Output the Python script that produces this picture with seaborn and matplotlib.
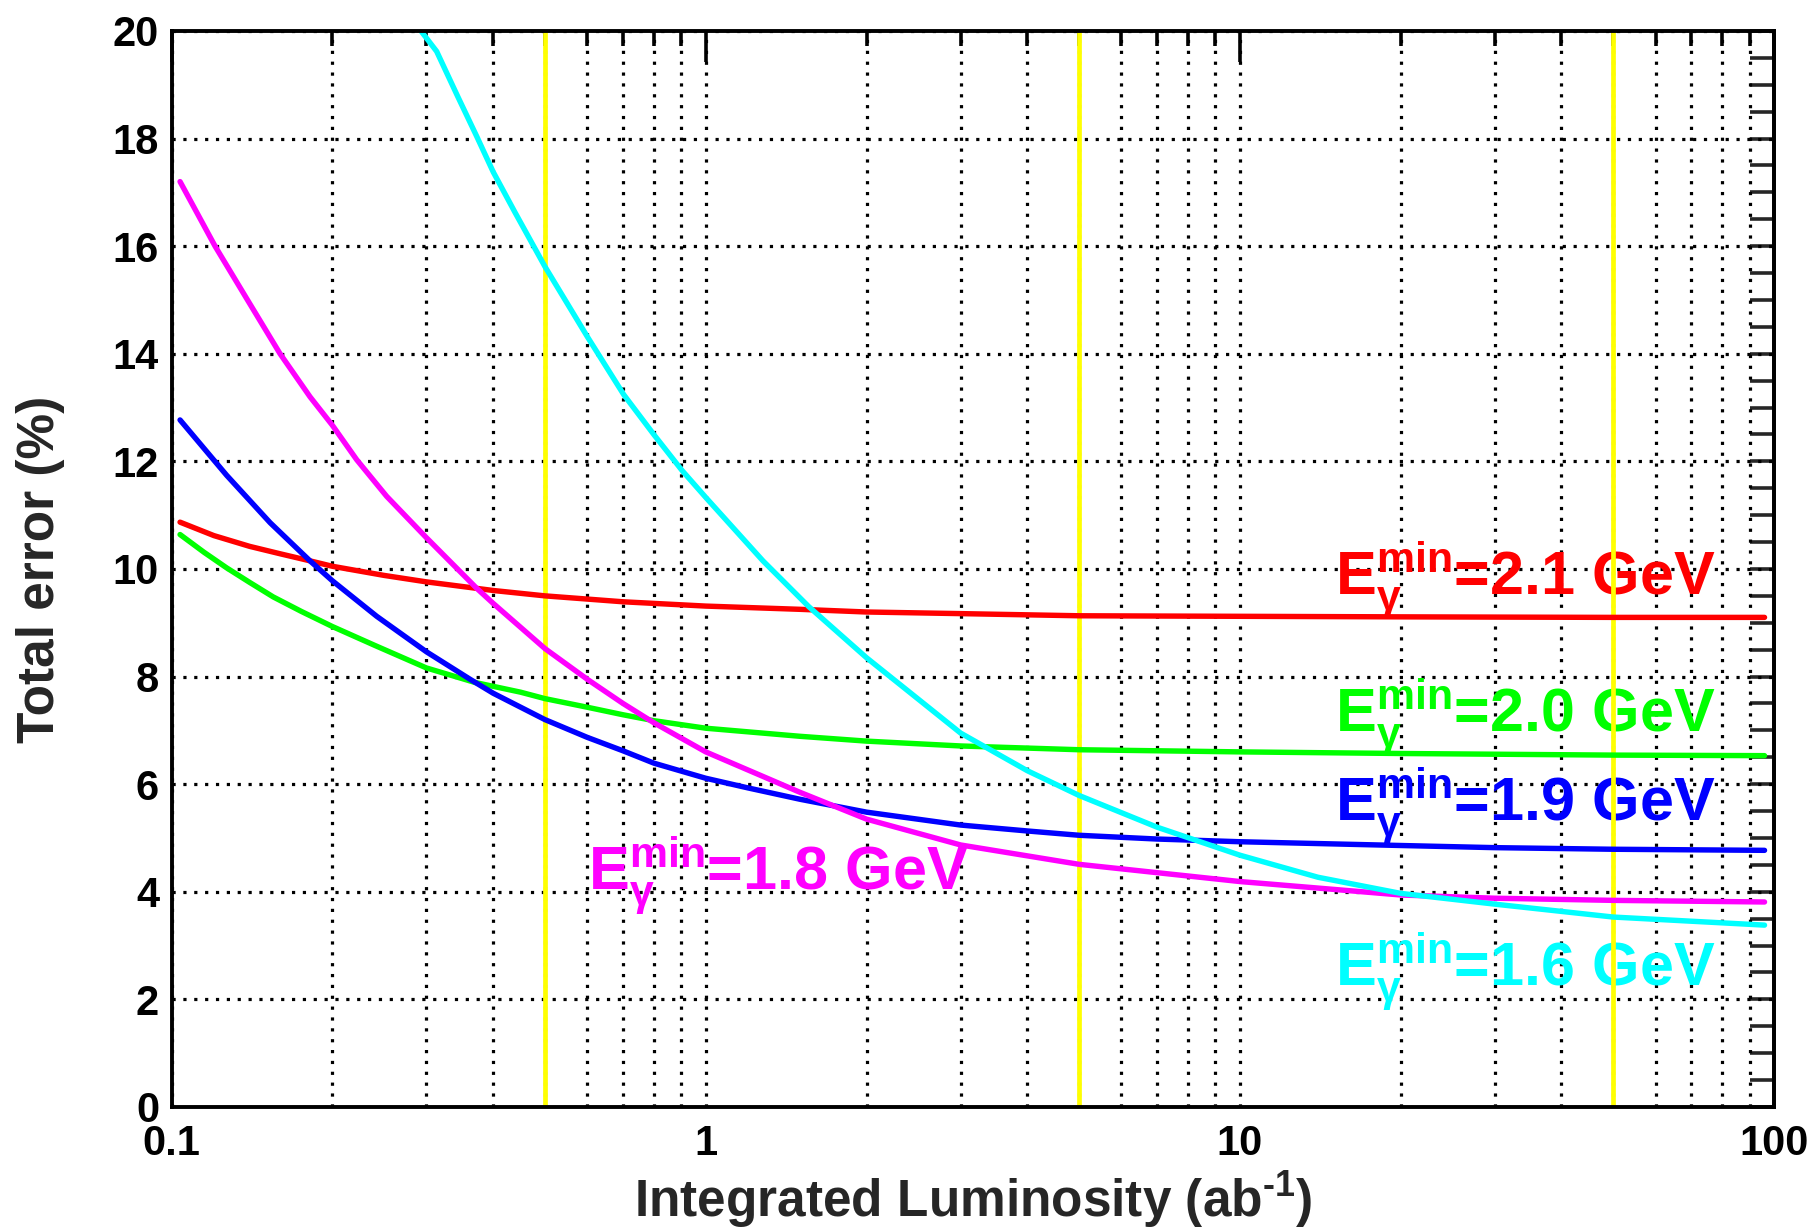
import numpy as np
import pandas as pd
import matplotlib
matplotlib.use("Agg")
import matplotlib.pyplot as plt
import matplotlib.ticker as mticker
import seaborn as sns

# Total error (%) versus integrated luminosity (ab^-1) for each minimum photon energy
lumi_21 = [0.1037, 0.12, 0.14, 0.16, 0.18, 0.2, 0.25, 0.3, 0.4, 0.5, 0.7, 1.0,
           1.5, 2.0, 3.0, 5.0, 10.0, 20.0, 50.0, 96.0]
err_21 = [10.87, 10.62, 10.42, 10.28, 10.16, 10.05, 9.88, 9.76, 9.60, 9.50, 9.39, 9.31,
          9.25, 9.20, 9.17, 9.13, 9.12, 9.11, 9.10, 9.10]

lumi_20 = [0.1037, 0.115, 0.1268, 0.14, 0.155, 0.175, 0.2, 0.24, 0.3, 0.37, 0.45, 0.5,
           0.6, 0.7, 0.8, 1.0, 1.5, 2.0, 3.0, 5.0, 10.0, 20.0, 50.0, 96.0]
err_20 = [10.64, 10.31, 10.02, 9.75, 9.48, 9.21, 8.93, 8.58, 8.16, 7.89, 7.71, 7.59,
          7.43, 7.29, 7.18, 7.04, 6.89, 6.80, 6.71, 6.64, 6.60, 6.57, 6.54, 6.53]

lumi_19 = [0.1037, 0.1268, 0.1529, 0.1816, 0.2, 0.2421, 0.3, 0.362, 0.4, 0.5, 0.6,
           0.7, 0.8, 1.0, 1.2, 1.5, 2.0, 3.0, 4.0, 5.0, 7.0, 10.0, 20.0, 30.0, 50.0, 96.0]
err_19 = [12.77, 11.74, 10.86, 10.15, 9.78, 9.12, 8.46, 7.95, 7.69, 7.20, 6.87,
          6.62, 6.39, 6.11, 5.93, 5.72, 5.48, 5.24, 5.13, 5.05, 4.98, 4.93, 4.86, 4.82, 4.79, 4.77]

lumi_18 = [0.1037, 0.1206, 0.1387, 0.1596, 0.1816, 0.2, 0.2221, 0.2527, 0.3, 0.3726,
           0.4, 0.5, 0.6, 0.7, 0.8, 1.0, 1.5, 2.0, 3.0, 5.0, 10.0, 20.0, 30.0, 50.0, 96.0]
err_18 = [17.20, 16.00, 15.00, 14.00, 13.20, 12.67, 12.03, 11.35, 10.58, 9.64,
          9.36, 8.52, 7.95, 7.50, 7.14, 6.60, 5.85, 5.35, 4.87, 4.51, 4.19, 3.94, 3.88, 3.84, 3.81]

lumi_16 = [0.293, 0.3135, 0.343, 0.3726, 0.4, 0.4393, 0.5, 0.6, 0.7022, 0.8007, 0.903,
           1.0, 1.28, 1.559, 2.0, 2.471, 3.0, 4.0, 5.0, 7.0, 10.0, 14.0, 20.0, 30.0, 50.0, 96.0]
err_16 = [20.0, 19.62, 18.79, 18.04, 17.38, 16.63, 15.62, 14.32, 13.24, 12.49, 11.83,
          11.33, 10.15, 9.30, 8.35, 7.62, 6.95, 6.25, 5.79, 5.20, 4.68, 4.27, 3.97, 3.77, 3.53, 3.38]

cuts = ["2.1", "2.0", "1.9", "1.8", "1.6"]
cut_colors = ["#ff0000", "#00ff00", "#0000ff", "#ff00ff", "#00ffff"]
marker_lumi = [0.5, 5.0, 50.0]

x_ticks = [0.1, 1, 10, 100]
x_ticklabels = ["0.1", "1", "10", "100"]
y_ticks = [0, 2, 4, 6, 8, 10, 12, 14, 16, 18, 20]

frames = []
for cut, xs, ys in zip(cuts, [lumi_21, lumi_20, lumi_19, lumi_18, lumi_16],
                       [err_21, err_20, err_19, err_18, err_16]):
    frames.append(pd.DataFrame({"lumi": xs, "err": ys, "cut": cut}))
df = pd.concat(frames, ignore_index=True)

sns.set_style("white")
plt.rcParams["font.family"] = ["Liberation Sans", "DejaVu Sans"]
plt.rcParams["font.weight"] = "bold"
plt.rcParams["mathtext.fontset"] = "custom"
plt.rcParams["mathtext.rm"] = "Liberation Sans:bold"
plt.rcParams["mathtext.bf"] = "Liberation Sans:bold"
plt.rcParams["mathtext.it"] = "Liberation Sans:bold"
plt.rcParams["mathtext.sf"] = "Liberation Sans:bold"

fig = plt.figure(figsize=(18.18, 12.29), dpi=100)
ax = fig.add_axes([0.0944, 0.0993, 0.8814, 0.8755])

for xv in marker_lumi:
    ax.axvline(xv, color="#ffff00", lw=3.4, zorder=2.5)

sns.lineplot(data=df, x="lumi", y="err", hue="cut", hue_order=cuts,
             palette=dict(zip(cuts, cut_colors)), sort=False, estimator=None,
             lw=3.9, legend=False, ax=ax, zorder=3)

ax.set_xscale("log")
ax.set_xlim(0.1, 100)
ax.set_ylim(0, 20)
ax.set_xticks(x_ticks)
ax.set_xticklabels(x_ticklabels)
ax.xaxis.set_minor_locator(mticker.LogLocator(base=10, subs=np.arange(2, 10)))
ax.xaxis.set_minor_formatter(mticker.NullFormatter())
ax.set_yticks(y_ticks)
ax.yaxis.set_minor_locator(mticker.MultipleLocator(0.5))

ax.grid(which="major", axis="y", color="black", ls=(0, (1, 2.4)), lw=2.3)
ax.grid(which="both", axis="x", color="black", ls=(0, (1, 2.4)), lw=2.3)
ax.set_axisbelow(True)

for s in ax.spines.values():
    s.set_linewidth(2.8)
    s.set_color("black")
    s.set_zorder(5)

ax.tick_params(axis="both", which="both", direction="in", top=True, right=False,
               width=2.6, colors="black", labelsize=30)
ax.tick_params(axis="y", which="major", length=34, pad=9)
ax.tick_params(axis="y", which="minor", length=17)
ax.tick_params(axis="x", which="major", length=22, pad=12)
ax.tick_params(axis="x", which="minor", length=11)
for lab in ax.get_xticklabels() + ax.get_yticklabels():
    lab.set_fontweight("bold")

# Shorter ticks on the right-hand frame edge
right = ax.secondary_yaxis("right")
right.set_yticks(y_ticks)
right.yaxis.set_minor_locator(mticker.MultipleLocator(0.5))
right.tick_params(which="both", direction="in", length=17, width=2.6,
                  labelright=False)
right.spines["right"].set_linewidth(2.8)

ax.set_xlabel("Integrated Luminosity (ab$^{\\mathbf{\u2010 1}}$)", fontsize=37,
              fontweight="bold")
ax.set_ylabel("Total error (%)", fontsize=37, fontweight="bold")
ax.xaxis.set_label_coords(0.5, -0.058)
ax.yaxis.set_label_coords(-0.0665, 0.5)

# Curve annotations
label_pos = {"2.1": (15.1, 9.52), "2.0": (15.1, 6.98), "1.9": (15.1, 5.31),
             "1.8": (0.603, 4.03), "1.6": (15.1, 2.26)}
for cut, col in zip(cuts, cut_colors):
    xv, yv = label_pos[cut]
    ax.text(xv, yv, r"$\mathbf{E^{min}_{\gamma}}$=" + cut + " GeV", color=col,
            fontsize=44, fontweight="bold", ha="left", va="baseline", zorder=1)

fig.savefig("out.png", dpi=100)
